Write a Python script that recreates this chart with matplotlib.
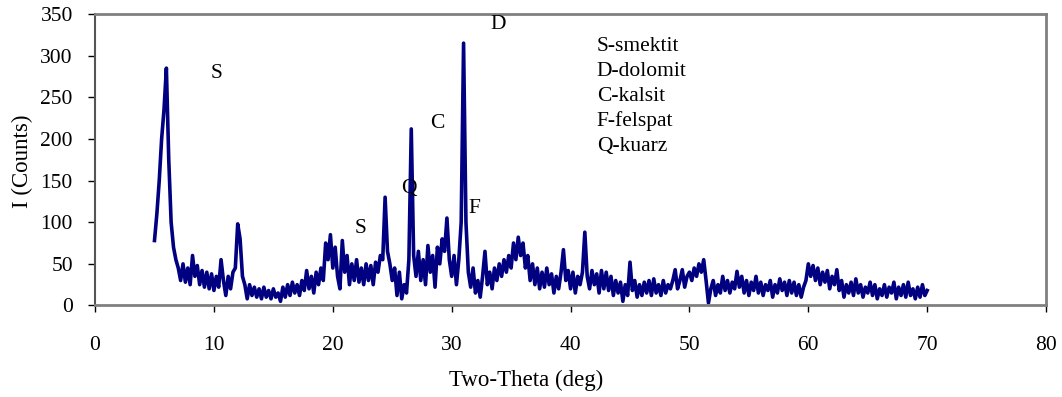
import numpy as np
import matplotlib.pyplot as plt

# scan: 5.0 .. 70.0 deg two-theta, 0.2 deg step
two_theta = np.round(np.arange(5.0, 70.01, 0.2), 1)

counts = [
	78, 110, 150, 200, 235,      # 5
	285, 175, 100, 70, 55,       # 6
	45, 30, 50, 28, 45,          # 7
	25, 60, 35, 48, 25,          # 8
	42, 22, 40, 20, 38,          # 9
	18, 35, 22, 55, 30,          # 10
	12, 35, 20, 40, 45,          # 11
	98, 80, 35, 25, 8,           # 12
	25, 12, 22, 10, 20,          # 13
	8, 22, 10, 18, 8,            # 14
	20, 10, 15, 5, 22,           # 15
	10, 25, 12, 28, 15,          # 16
	25, 12, 30, 18, 42,          # 17
	20, 35, 15, 40, 25,          # 18
	45, 30, 75, 55, 85,          # 19
	45, 70, 35, 20, 78,          # 20
	40, 60, 25, 50, 30,          # 21
	55, 28, 45, 25, 50,          # 22
	30, 48, 25, 52, 40,          # 23
	60, 55, 130, 65, 50,         # 24
	30, 45, 12, 40, 8,           # 25
	25, 15, 55, 212, 60,         # 26
	35, 65, 30, 55, 25,          # 27
	72, 40, 60, 22, 70,          # 28
	50, 80, 65, 105, 55,         # 29
	35, 60, 25, 55, 100,         # 30
	315, 100, 40, 22, 45,        # 31
	15, 30, 10, 35, 65,          # 32
	25, 40, 20, 45, 30,          # 33
	50, 35, 55, 40, 60,          # 34
	45, 75, 55, 82, 60,          # 35
	75, 45, 60, 30, 50,          # 36
	25, 45, 20, 40, 22,          # 37
	45, 25, 38, 15, 35,          # 38
	20, 40, 67, 30, 42,          # 39
	20, 40, 15, 35, 25,          # 40
	40, 88, 35, 20, 42,          # 41
	25, 38, 15, 42, 20,          # 42
	40, 18, 35, 12, 30,          # 43
	15, 28, 5, 25, 12,           # 44
	52, 18, 30, 10, 25,          # 45
	12, 28, 15, 30, 12,          # 46
	32, 15, 25, 12, 30,          # 47
	15, 25, 20, 30, 43,          # 48
	20, 30, 43, 22, 35,          # 49
	40, 30, 45, 35, 50,          # 50
	40, 55, 30, 3, 20,           # 51
	30, 12, 25, 15, 35,          # 52
	18, 30, 15, 28, 20,          # 53
	41, 22, 35, 15, 30,          # 54
	12, 28, 18, 35, 15,          # 55
	28, 12, 25, 18, 30,          # 56
	10, 25, 15, 32, 18,          # 57
	28, 12, 30, 15, 28,          # 58
	12, 25, 10, 22, 30,          # 59
	50, 35, 48, 30, 45,          # 60
	25, 40, 28, 42, 20,          # 61
	35, 25, 43, 18, 30,          # 62
	10, 25, 15, 28, 12,          # 63
	32, 15, 25, 10, 22,          # 64
	15, 28, 12, 25, 8,           # 65
	20, 12, 25, 10, 22,          # 66
	15, 28, 8, 22, 12,           # 67
	25, 10, 28, 12, 20,          # 68
	8, 22, 10, 25, 12,           # 69
	18,                          # 70
]

peak_labels = ['S', 'S', 'Q', 'C', 'D', 'F']
peak_x = [10.2, 22.35, 26.4, 28.8, 33.9, 31.9]
peak_y = [278, 93, 140, 218, 337, 117]

legend_lines = ['S-smektit', 'D-dolomit', 'C-kalsit', 'F-felspat', 'Q-kuarz']

plt.rcParams['font.family'] = ['Liberation Serif', 'DejaVu Serif']

fig = plt.figure(figsize = (10.62, 3.97), dpi = 100)
ax = fig.add_axes([0.0895, 0.2305, 0.8955, 0.7342])

ax.plot(two_theta, counts, color = '#000080', linewidth = 2.6)

ax.set_xlim(0, 80)
ax.set_ylim(0, 350)
ax.set_xticks(range(0, 81, 10))
ax.set_yticks(range(0, 351, 50))
ax.tick_params(direction = 'out', length = 5, width = 1, colors = 'black', labelsize = 15.5)
ax.tick_params(axis = 'x', pad = 17)
ax.tick_params(axis = 'y', pad = 11)

# axis titles placed on the figure, like the original export
fig.text(526 / 1062, 1 - 380 / 397, 'Two-Theta (deg)', fontsize = 16.5, ha = 'center', va = 'center')
fig.text(22 / 1062, 1 - 161 / 397, 'I (Counts)', fontsize = 16.5, ha = 'center', va = 'center', rotation = 90)

for side in ['top', 'right', 'bottom']:
	ax.spines[side].set_color('#808080')
	ax.spines[side].set_linewidth(2)
ax.spines['left'].set_color('#555555')
ax.spines['left'].set_linewidth(1.5)

for lbl, px, py in zip(peak_labels, peak_x, peak_y):
	ax.text(px, py, lbl, fontsize = 15.5, ha = 'center', va = 'center')

for i, line in enumerate(legend_lines):
	ax.text(42.2, 311 - i * 30, line, fontsize = 15.5, ha = 'left', va = 'center')

plt.savefig('out.png', dpi = 100)
plt.close()
